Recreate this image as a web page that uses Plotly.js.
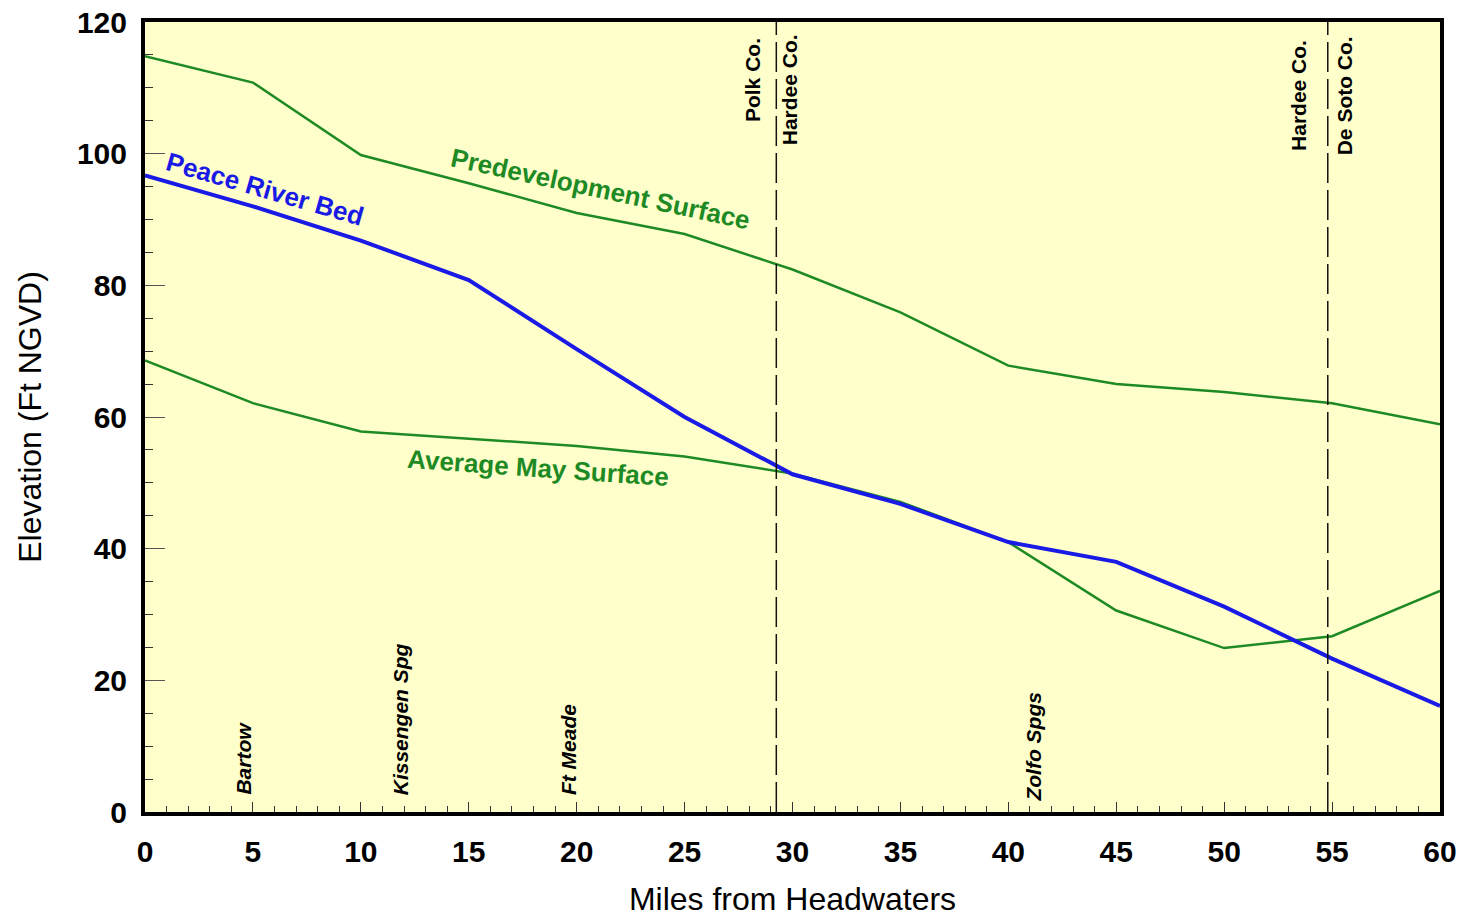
<!DOCTYPE html>
<html>
<head>
<meta charset="utf-8">
<script src="https://cdn.plot.ly/plotly-3.0.1.min.js"></script>
<style>html,body{margin:0;padding:0;background:#fff;}#chart{width:1461px;height:919px;}</style>
</head>
<body>
<div id="chart"></div>
<script>
const miles = [0, 5, 10, 15, 20, 25, 30, 35, 40, 45, 50, 55, 60];
const predevelopment = [114.8, 110.8, 99.8, 95.5, 91.0, 87.8, 82.4, 75.9, 67.8, 65.0, 63.8, 62.1, 58.9];
const riverBedMiles = [0, 5, 10, 15, 20, 25, 30, 35, 40, 45, 50, 55, 60];
const riverBed = [96.7, 92.0, 86.8, 80.8, 70.3, 60.0, 51.3, 46.8, 41.0, 38.0, 31.2, 23.3, 16.1];
const averageMay = [68.6, 62.1, 57.8, 56.7, 55.6, 54.0, 51.4, 47.1, 41.0, 30.6, 24.9, 26.7, 33.6];

const countyLineMiles = [29.25, 54.8];
const countyLabels = [
  {text: 'Polk Co.', x: 28.15, y: 117.8},
  {text: 'Hardee Co.', x: 29.85, y: 118.4},
  {text: 'Hardee Co.', x: 53.45, y: 117.6},
  {text: 'De Soto Co.', x: 55.55, y: 118.2}
];
const placeLabels = [
  {text: 'Bartow', x: 4.55, y: 2.3},
  {text: 'Kissengen Spg', x: 11.85, y: 2.2},
  {text: 'Ft Meade', x: 19.6, y: 2.2},
  {text: 'Zolfo Spgs', x: 41.15, y: 1.3}
];
const seriesLabels = [
  {text: 'Peace River Bed', x: 5.55, y: 94.6, angle: 16, color: '#1a1ae6'},
  {text: 'Predevelopment Surface', x: 21.1, y: 94.6, angle: 12, color: '#1e8a24'},
  {text: 'Average May Surface', x: 18.2, y: 52.2, angle: 4, color: '#1e8a24'}
];

const green = '#1e8a24';
const blue = '#1a1ae6';
const font = 'Liberation Sans, Arial, sans-serif';

const traces = [
  {x: miles, y: predevelopment, mode: 'lines', line: {color: green, width: 2.5}, name: 'Predevelopment Surface', hoverinfo: 'x+y'},
  {x: miles, y: averageMay, mode: 'lines', line: {color: green, width: 2.5}, name: 'Average May Surface', hoverinfo: 'x+y'},
  {x: riverBedMiles, y: riverBed, mode: 'lines', line: {color: blue, width: 4}, name: 'Peace River Bed', hoverinfo: 'x+y'}
];

const annotations = [];
countyLabels.forEach(c => annotations.push({
  x: c.x, y: c.y, xref: 'x', yref: 'y', text: '<b>' + c.text + '</b>', showarrow: false, textangle: -90,
  xanchor: 'center', yanchor: 'top',
  font: {family: font, size: 21, color: '#000'}
}));
placeLabels.forEach(p => annotations.push({
  x: p.x, y: p.y, xref: 'x', yref: 'y', text: '<b><i>' + p.text + '</i></b>', showarrow: false, textangle: -90,
  xanchor: 'center', yanchor: 'bottom',
  font: {family: font, size: 21, color: '#000'}
}));
seriesLabels.forEach(s => annotations.push({
  x: s.x, y: s.y, xref: 'x', yref: 'y', text: '<b>' + s.text + '</b>', showarrow: false, textangle: s.angle,
  xanchor: 'center', yanchor: 'middle',
  font: {family: font, size: 26, color: s.color}
}));

const shapes = countyLineMiles.map(m => ({
  type: 'line', xref: 'x', yref: 'y', x0: m, x1: m, y0: 0, y1: 120,
  line: {color: '#111', width: 1.5, dash: '30px,7px'}
}));

const layout = {
  width: 1461, height: 919,
  margin: {l: 145, r: 21, t: 22, b: 107},
  paper_bgcolor: '#ffffff',
  plot_bgcolor: '#ffffcc',
  showlegend: false,
  xaxis: {
    range: [0, 60], dtick: 5, tick0: 0,
    showgrid: false, zeroline: false,
    showline: true, linecolor: '#000', linewidth: 4, mirror: true,
    ticks: 'inside', ticklen: 10, tickcolor: '#333', tickwidth: 1,
    minor: {dtick: 1, ticks: 'inside', ticklen: 6, tickcolor: '#333', tickwidth: 1, showgrid: false},
    tickfont: {family: font, size: 30, color: '#000', weight: 'bold'},
    ticklabelstandoff: 10,
    title: {text: 'Miles from Headwaters', standoff: 22,
      font: {family: font, size: 32, color: '#000'}}
  },
  yaxis: {
    range: [0, 120], dtick: 20, tick0: 0,
    showgrid: false, zeroline: false,
    showline: true, linecolor: '#000', linewidth: 4, mirror: true,
    ticks: 'inside', ticklen: 20, tickcolor: '#555', tickwidth: 1,
    minor: {dtick: 5, ticks: 'inside', ticklen: 8, tickcolor: '#333', tickwidth: 1, showgrid: false},
    tickfont: {family: font, size: 30, color: '#000', weight: 'bold'},
    ticklabelstandoff: 8,
    title: {text: 'Elevation (Ft NGVD)', standoff: 27,
      font: {family: font, size: 32, color: '#000'}}
  },
  annotations: annotations,
  shapes: shapes
};

Plotly.newPlot('chart', traces, layout, {displayModeBar: false, staticPlot: true});
</script>
</body>
</html>
